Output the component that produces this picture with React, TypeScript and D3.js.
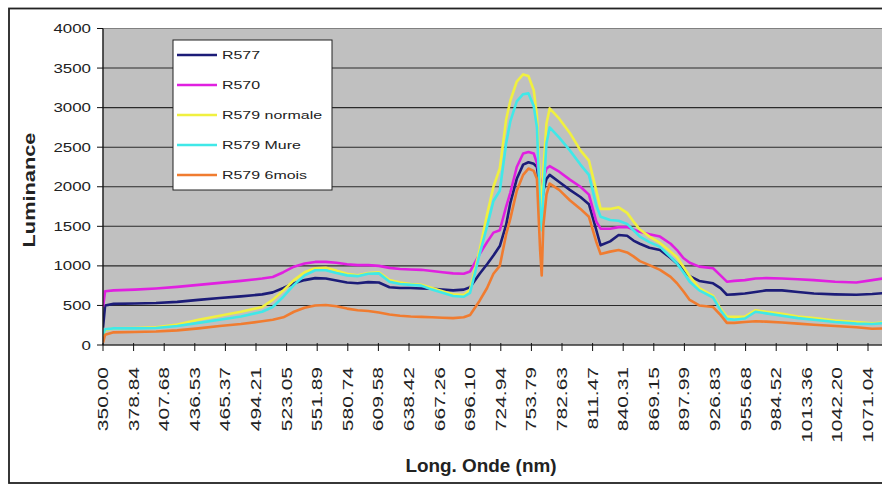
import React from 'react';
import * as d3 from 'd3';

const wavelengths = [350, 352, 360, 380, 400, 420, 440, 460, 480, 500, 510, 520, 530, 540, 550, 560, 570, 580, 590, 600, 610, 620, 630, 640, 650, 660, 670, 680, 690, 696, 705, 712, 718, 724, 730, 734, 740, 746, 751, 756, 759, 762, 763.5, 765, 768, 771, 780, 790, 800, 808, 815, 819, 828, 836, 844, 850, 856, 865, 875, 885, 891, 897, 903, 912, 925, 932, 938, 945, 955, 965, 975, 990, 1005, 1020, 1040, 1060, 1075, 1090];

const r577 = [220, 500, 520, 525, 530, 545, 570, 595, 615, 640, 665, 720, 780, 820, 845, 840, 815, 790, 780, 795, 790, 730, 720, 720, 715, 710, 700, 690, 700, 730, 900, 1020, 1130, 1250, 1520, 1800, 2100, 2280, 2310, 2290, 2250, 1950, 1750, 1950, 2100, 2150, 2060, 1960, 1870, 1780, 1450, 1260, 1310, 1390, 1380, 1320, 1280, 1230, 1200, 1100, 1030, 950, 870, 810, 780, 720, 635, 640, 650, 670, 690, 690, 670, 650, 640, 635, 645, 660];

const r570 = [480, 680, 690, 700, 715, 735, 760, 785, 810, 840, 860, 920, 990, 1030, 1050, 1050, 1040, 1020, 1010, 1010, 1000, 975, 960, 955, 950, 935, 920, 905, 900, 930, 1150, 1300, 1420, 1450, 1750, 1930, 2250, 2420, 2440, 2420, 2300, 2100, 1950, 2100, 2230, 2260, 2190, 2090, 2000, 1900, 1560, 1470, 1470, 1490, 1490, 1460, 1430, 1400, 1370, 1280, 1200, 1100, 1040, 990, 970, 880, 800, 810, 820, 840, 845, 840, 830, 820, 800, 790, 820, 850];

const r579Normale = [100, 190, 210, 215, 225, 260, 320, 370, 420, 480, 570, 690, 820, 920, 970, 975, 940, 900, 880, 910, 920, 820, 790, 770, 760, 720, 680, 640, 630, 700, 1200, 1650, 2000, 2230, 2850, 3090, 3330, 3420, 3400, 3220, 2900, 2000, 1650, 2200, 2800, 2990, 2860, 2680, 2460, 2330, 1950, 1720, 1720, 1740, 1670, 1560, 1460, 1370, 1290, 1180, 1110, 990, 870, 720, 620, 460, 360, 355, 360, 440, 420, 395, 360, 340, 310, 290, 275, 290];

const r579Mure = [130, 200, 210, 210, 215, 240, 280, 320, 360, 420, 480, 610, 760, 880, 945, 945, 910, 880, 870, 900, 905, 800, 770, 760, 750, 700, 660, 620, 610, 660, 1150, 1500, 1820, 1950, 2550, 2830, 3080, 3170, 3180, 3020, 2750, 1700, 1450, 1900, 2550, 2750, 2620, 2460, 2280, 2150, 1760, 1620, 1580, 1570, 1530, 1450, 1370, 1300, 1240, 1110, 1030, 920, 800, 690, 600, 440, 330, 320, 335, 420, 400, 370, 340, 320, 290, 270, 265, 280];

const r5796mois = [30, 130, 160, 165, 170, 185, 210, 240, 265, 300, 320, 350, 420, 470, 500, 505, 490, 460, 440, 430, 410, 385, 370, 360, 355, 350, 345, 340, 350, 380, 560, 720, 900, 1000, 1400, 1600, 1950, 2150, 2230, 2200, 2100, 1200, 880, 1500, 1900, 2040, 1960, 1830, 1720, 1620, 1300, 1150, 1180, 1200, 1170, 1120, 1060, 1010, 950, 860, 780, 680, 570, 500, 480, 380, 280, 280, 290, 300, 295, 285, 270, 255, 240, 225, 205, 210];

const seriesNames = ['R577', 'R570', 'R579 normale', 'R579 Mure', 'R579 6mois'];
const seriesValues = [r577, r570, r579Normale, r579Mure, r5796mois];
const seriesColors = ['#1c1c78', '#e020e0', '#f0f040', '#40e8e8', '#f07c30'];

const yTicks = [0, 500, 1000, 1500, 2000, 2500, 3000, 3500, 4000];
const xTickLabels = ['350.00', '378.84', '407.68', '436.53', '465.37', '494.21', '523.05', '551.89', '580.74', '609.58', '638.42', '667.26', '696.10', '724.94', '753.79', '782.63', '811.47', '840.31', '869.15', '897.99', '926.83', '955.68', '984.52', '1013.36', '1042.20', '1071.04'];

const FONT = '"Liberation Sans", Arial, sans-serif';

export default function App() {
  const W = 882;
  const H = 486;
  const plotLeft = 103;
  const plotTop = 28.5;
  const plotBottom = 345;
  const plotRight = 905;

  const x = d3.scaleLinear().domain([350, 1071.04]).range([103, 868]);
  const y = d3.scaleLinear().domain([0, 4000]).range([plotBottom, plotTop]);

  const line = d3
    .line<number>()
    .x((_, i) => x(wavelengths[i]))
    .y((d) => y(d));

  return (
    <svg
      width={W}
      height={H}
      style={{ position: 'absolute', left: 0, top: 0, background: '#fff' }}
      fontFamily={FONT}
    >
      <defs>
        <clipPath id="plotClip">
          <rect x={plotLeft} y={plotTop - 3} width={plotRight - plotLeft} height={plotBottom - plotTop + 3} />
        </clipPath>
      </defs>
      <rect x={0} y={0} width={W} height={H} fill="#fff" />
      {/* outer border */}
      <rect x={9} y={8.5} width={920} height={474.5} fill="none" stroke="#222" strokeWidth={1.8} />

      {/* plot area */}
      <rect x={plotLeft} y={plotTop} width={plotRight - plotLeft} height={plotBottom - plotTop} fill="#c0c0c0" stroke="#808080" strokeWidth={1} />

      {/* gridlines */}
      {yTicks.filter((t) => t > 0 && t < 4000).map((t) => (
        <line key={'g' + t} x1={plotLeft} x2={plotRight} y1={y(t)} y2={y(t)} stroke="#2a2a2a" strokeWidth={1.1} />
      ))}

      {/* series */}
      <g clipPath="url(#plotClip)">
        {seriesValues.map((vals, i) => (
          <path
            key={seriesNames[i]}
            d={line(vals) || ''}
            fill="none"
            stroke={seriesColors[i]}
            strokeWidth={2.6}
            strokeLinejoin="round"
          />
        ))}
      </g>

      {/* axes */}
      <line x1={plotLeft} x2={plotLeft} y1={plotTop} y2={plotBottom} stroke="#111" strokeWidth={1.2} />
      <line x1={plotLeft} x2={plotRight} y1={plotBottom} y2={plotBottom} stroke="#111" strokeWidth={1.2} />

      {/* y ticks and labels */}
      {yTicks.map((t) => (
        <g key={'y' + t}>
          <line x1={97} x2={plotLeft} y1={y(t)} y2={y(t)} stroke="#111" strokeWidth={1} />
          <text
            transform={`translate(91,${y(t)}) scale(1.3,1)`}
            textAnchor="end"
            dy="0.35em"
            fontSize={13}
            fill="#222"
          >
            {t}
          </text>
        </g>
      ))}

      {/* x ticks and labels */}
      {xTickLabels.map((lab) => {
        const xv = x(parseFloat(lab));
        return (
          <g key={'x' + lab}>
            <line x1={xv} x2={xv} y1={plotBottom - 2} y2={plotBottom + 6} stroke="#111" strokeWidth={1} />
            <text
              transform={`translate(${xv},367) rotate(-90) scale(1.5,1)`}
              textAnchor="end"
              dy="0.35em"
              fontSize={14}
              fill="#222"
            >
              {lab}
            </text>
          </g>
        );
      })}

      {/* axis titles */}
      <text
        transform="translate(35,190) rotate(-90) scale(1.28,1)"
        textAnchor="middle"
        fontSize={17}
        fontWeight="bold"
        fill="#222"
      >
        Luminance
      </text>
      <text
        transform="translate(481,472) scale(1.05,1)"
        textAnchor="middle"
        fontSize={18}
        fontWeight="bold"
        fill="#222"
      >
        Long. Onde (nm)
      </text>

      {/* legend */}
      <rect x={173} y={40} width={159} height={150} fill="#fff" stroke="#222" strokeWidth={1} />
      {seriesNames.map((name, i) => {
        const ly = 55 + i * 30;
        return (
          <g key={'l' + name}>
            <line x1={177} x2={217} y1={ly} y2={ly} stroke={seriesColors[i]} strokeWidth={2.6} />
            <text
              transform={`translate(222,${ly}) scale(1.45,1)`}
              dy="0.35em"
              fontSize={11}
              fill="#222"
            >
              {name}
            </text>
          </g>
        );
      })}
    </svg>
  );
}
